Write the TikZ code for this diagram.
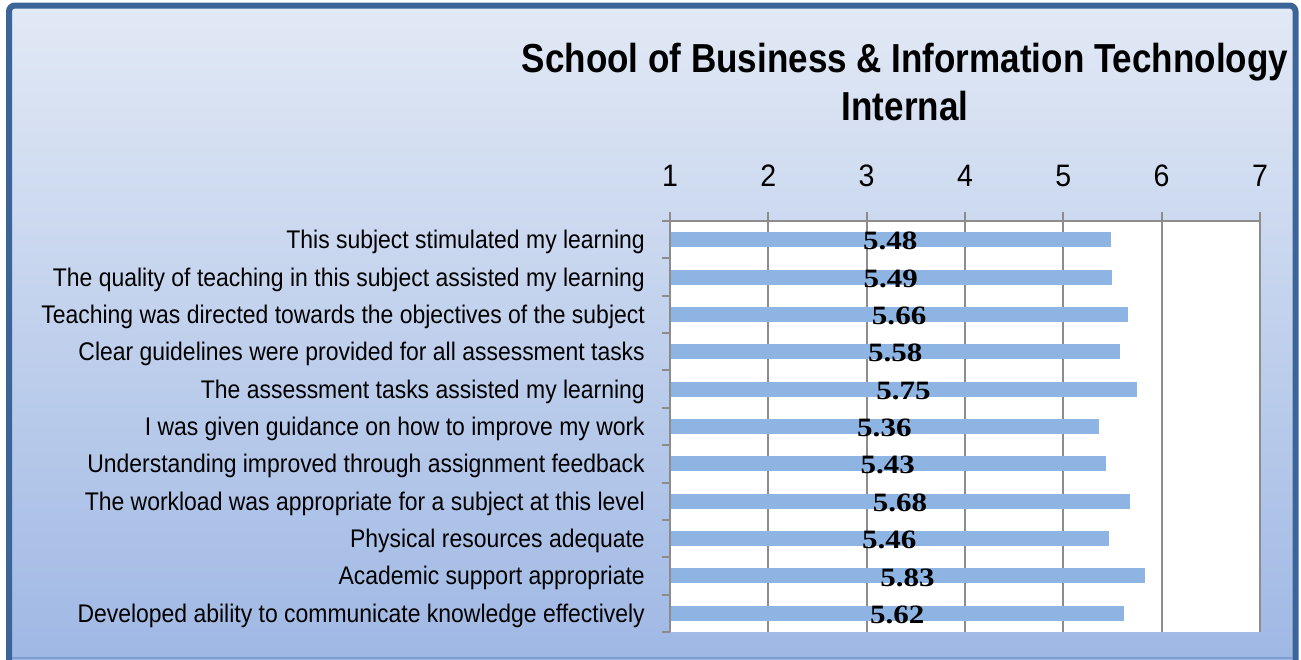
\documentclass[tikz,border=0pt]{standalone}
\usepackage{fontspec}
\setmainfont{Liberation Sans}
\newfontfamily\titlefont[FakeStretch=0.865]{Liberation Sans}
\newfontfamily\labfont[FakeStretch=0.90]{Liberation Sans}
\newfontfamily\tickfont[FakeStretch=0.92]{Liberation Sans}
\newfontfamily\valfont[FakeStretch=1.17]{Liberation Serif}
\definecolor{borderblue}{RGB}{59,100,152}
\definecolor{bgtop}{RGB}{226,233,245}
\definecolor{bgbottom}{RGB}{155,181,227}
\definecolor{barblue}{RGB}{141,180,226}
\definecolor{gridgray}{RGB}{140,140,140}
\definecolor{edgelight}{RGB}{126,158,211}
\tikzset{
  catlabel/.style={anchor=base east, inner sep=0pt, font=\labfont\fontsize{25.5}{28}\selectfont},
  ticklabel/.style={anchor=base, inner sep=0pt, font=\tickfont\fontsize{31}{34}\selectfont},
  vallabel/.style={anchor=center, inner sep=0pt, font=\valfont\bfseries\fontsize{26.5}{29}\selectfont},
  titletext/.style={anchor=base, inner sep=0pt, font=\titlefont\bfseries\fontsize{40.5}{44}\selectfont},
  gridline/.style={draw=gridgray, line width=2pt},
  barstyle/.style={fill=barblue}
}
\begin{document}
\begin{tikzpicture}[x=1pt,y=-1pt]
\useasboundingbox (0,0) rectangle (1301,659);
\clip (0,0) rectangle (1301,659);
\fill[white] (0,0) rectangle (1301,659);
% background panel
\shade[top color=bgtop, bottom color=bgbottom, rounded corners=6pt] (9,5.5) rectangle (1295.5,700);
\draw[borderblue, line width=6pt, rounded corners=6pt] (9,5.5) rectangle (1295.5,700);
\draw[edgelight, line width=2pt] (12,658) -- (1292,658);
% title
\node[titletext] (title1) at (905,72) {School of Business \& Information Technology};
\node[titletext] (title2) at (905,120) {Internal};
% plot area
\fill[white] (670,221) coordinate (plotnw) rectangle (1260,632) coordinate (plotse);
\foreach \k in {1,...,7} {
  \pgfmathsetmacro\gx{670+98.333*(\k-1)}
  \draw[gridline] (\gx,211.5) -- (\gx,632);
  \node[ticklabel] (tick\k) at (\gx,186) {\k};
}
\draw[gridline] (670,221) -- (1260,221);
% bars
\foreach \i/\v/\t in {
  1/5.48/This subject stimulated my learning,
  2/5.49/The quality of teaching in this subject assisted my learning,
  3/5.66/Teaching was directed towards the objectives of the subject,
  4/5.58/Clear guidelines were provided for all assessment tasks,
  5/5.75/The assessment tasks assisted my learning,
  6/5.36/I was given guidance on how to improve my work,
  7/5.43/Understanding improved through assignment feedback,
  8/5.68/The workload was appropriate for a subject at this level,
  9/5.46/Physical resources adequate,
  10/5.83/Academic support appropriate,
  11/5.62/Developed ability to communicate knowledge effectively} {
  \pgfmathsetmacro\cy{221+37.364*(\i-0.5)}
  \pgfmathsetmacro\xe{670+98.333*(\v-1)}
  \pgfmathsetmacro\xm{(670+\xe)/2}
  \fill[barstyle] (670,\cy-7.5) rectangle (\xe,\cy+7.5);
  \node[vallabel] (val\i) at (\xm,\cy+1.5) {\v};
  \node[catlabel] (cat\i) at (645,\cy+9) {\t};
}
% left axis and category ticks
\draw[gridline] (670,220) -- (670,632);
\foreach \k in {0,...,11} {
  \pgfmathsetmacro\ty{221+37.364*\k}
  \draw[gridline] (661.5,\ty) -- (670,\ty);
}
\end{tikzpicture}
\end{document}
